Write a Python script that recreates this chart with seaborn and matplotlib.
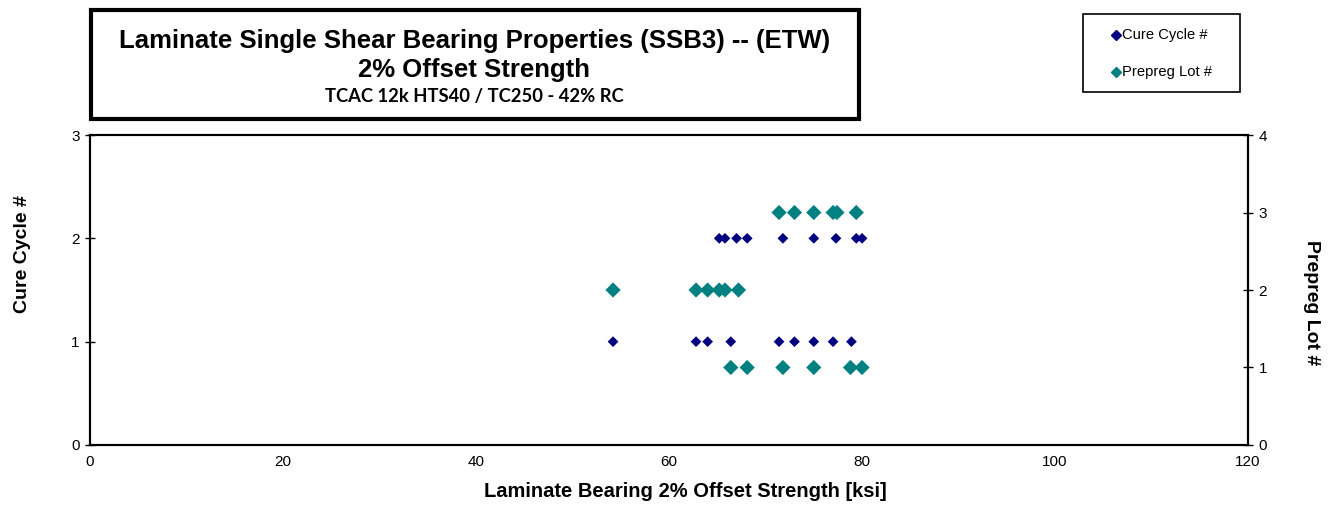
import matplotlib
matplotlib.use('Agg')
import matplotlib.pyplot as plt
import seaborn as sns
import pandas as pd
from matplotlib.lines import Line2D
from matplotlib.patches import Rectangle

# Values
cure_strength = [65.2, 65.8, 67.0, 68.1, 71.8, 75.0, 77.3, 79.4, 80.0,
                 54.2, 62.8, 64.0, 66.4, 71.4, 73.0, 75.0, 77.0, 78.9]
cure_cycle = [2, 2, 2, 2, 2, 2, 2, 2, 2,
              1, 1, 1, 1, 1, 1, 1, 1, 1]

lot_strength = [71.4, 73.0, 75.0, 77.0, 77.4, 79.4,
                54.2, 62.8, 64.0, 65.2, 65.8, 67.2,
                66.4, 68.1, 71.8, 75.0, 78.8, 80.0]
prepreg_lot = [3, 3, 3, 3, 3, 3,
               2, 2, 2, 2, 2, 2,
               1, 1, 1, 1, 1, 1]

x_ticks = [0, 20, 40, 60, 80, 100, 120]
series_names = ['Cure Cycle #', 'Prepreg Lot #']

cure_df = pd.DataFrame({'strength': cure_strength, 'cycle': cure_cycle})
lot_df = pd.DataFrame({'strength': lot_strength, 'lot': prepreg_lot})

sns.set_style('white')
plt.rcParams['font.family'] = ['Liberation Sans', 'DejaVu Sans']
plt.rcParams['text.color'] = 'black'
plt.rcParams['axes.labelcolor'] = 'black'

navy = '#000080'
teal = '#008080'

fig = plt.figure(figsize=(13.29, 5.07), dpi=100)
ax = fig.add_axes([0.0677, 0.1223, 0.8714, 0.6114])
ax2 = ax.twinx()

sns.scatterplot(data=cure_df, x='strength', y='cycle', ax=ax, marker='D',
                color=navy, s=30, edgecolor='none', zorder=3, legend=False)
sns.scatterplot(data=lot_df, x='strength', y='lot', ax=ax2, marker='D',
                color=teal, s=60, edgecolor='none', zorder=3, legend=False)

ax.set_xlim(0, 120)
ax.set_ylim(0, 3)
ax2.set_ylim(0, 4)
ax.set_xticks(x_ticks)
ax.set_yticks([0, 1, 2, 3])
ax2.set_yticks([0, 1, 2, 3, 4])

for a in (ax, ax2):
    a.tick_params(axis='both', direction='inout', length=7, width=1,
                  labelsize=11, color='black', labelcolor='black', pad=4)
    for side in ('left', 'right', 'bottom', 'top'):
        a.spines[side].set_color('black')
        a.spines[side].set_linewidth(1.5)

ax.set_xlabel('Laminate Bearing 2% Offset Strength [ksi]', fontsize=14.5,
              fontweight='bold')
ax.xaxis.set_label_coords(0.514, -0.12)
ax.set_ylabel('Cure Cycle #', fontsize=14, fontweight='bold')
ax.yaxis.set_label_coords(-0.0505, 0.616)
ax2.set_ylabel('Prepreg Lot #', fontsize=14, fontweight='bold', rotation=270,
               va='center')
ax2.yaxis.set_label_coords(1.055, 0.458)

# Title box
fig.patches.append(Rectangle((0.0685, 0.765), 0.578, 0.215,
                             transform=fig.transFigure, fill=False,
                             edgecolor='black', linewidth=3))
fig.text(0.357, 0.9053, 'Laminate Single Shear Bearing Properties (SSB3) -- (ETW)',
         ha='center', va='baseline', fontsize=18.5, fontweight='bold')
fig.text(0.357, 0.8481, '2% Offset Strength', ha='center', va='baseline',
         fontsize=18.5, fontweight='bold')
fig.text(0.357, 0.7988, 'TCAC 12k HTS40 / TC250 - 42% RC', ha='center',
         va='baseline', fontsize=13.2, fontweight='bold',
         family=['Lato', 'Liberation Sans', 'DejaVu Sans'])

# Legend box
fig.patches.append(Rectangle((0.8149, 0.8185), 0.1181, 0.1539,
                             transform=fig.transFigure, fill=False,
                             edgecolor='black', linewidth=1.2))
for name, col, yy in zip(series_names, [navy, teal], [0.931, 0.858]):
    fig.add_artist(Line2D([0.8396], [yy], transform=fig.transFigure,
                          linestyle='none', marker='D', color=col,
                          markersize=5))
    fig.text(0.8442, yy, name, ha='left', va='center', fontsize=10.6)

fig.savefig('out.png', dpi=100)
